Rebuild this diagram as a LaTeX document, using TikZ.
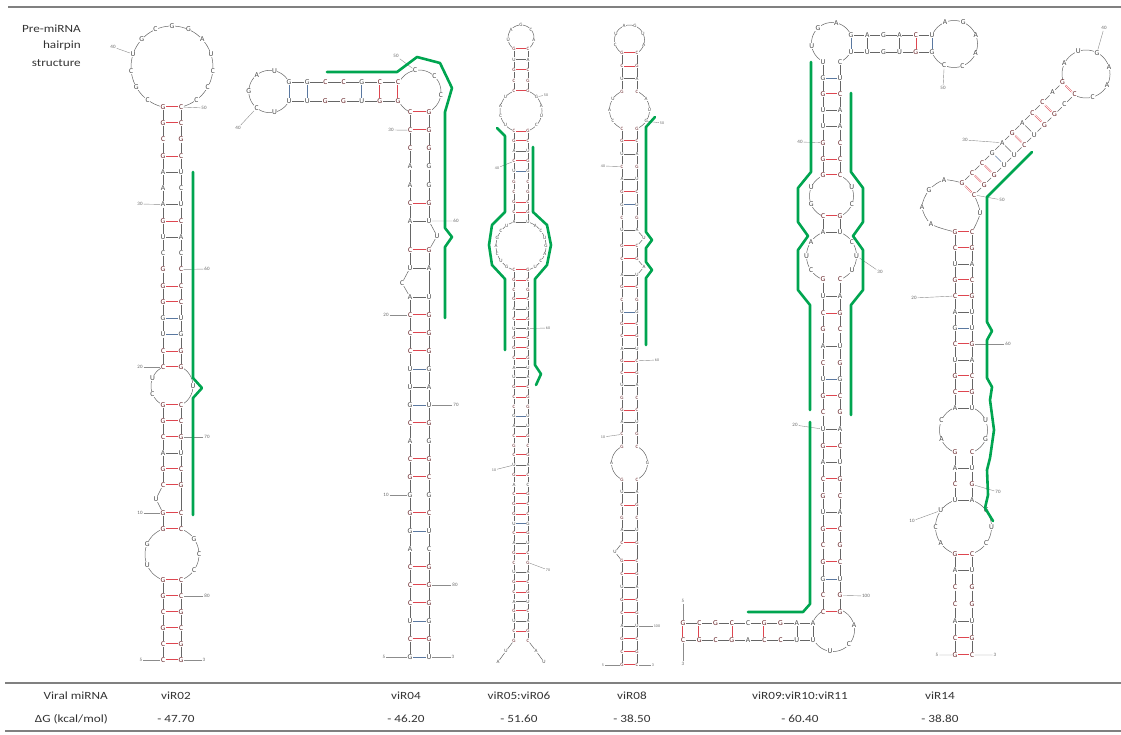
\documentclass[tikz,border=0pt]{standalone}
\usepackage{fontspec}
\setmainfont{Carlito}
\newfontfamily\tabfont{Carlito}[FakeStretch=1.2]
\pgfdeclarelayer{bg}
\pgfsetlayers{bg,main}
\definecolor{gcred}{RGB}{222,70,80}
\definecolor{gurule}{RGB}{90,120,160}
\definecolor{annot}{RGB}{0,165,80}
\tikzset{
 nt/.style={font=\fontsize{7.5}{7.5}\selectfont, inner sep=0.5pt, fill=white, text=black!72},
 ntg/.style={text=black!55!gcred}, nta/.style={}, ntw/.style={}, ntn/.style={},
 bdg/.style={draw=gcred, double=white, double distance=0.7pt, line width=0.45pt},
 bda/.style={draw=black!60, line width=0.5pt},
 bdw/.style={draw=gurule, line width=0.5pt},
 bdn/.style={draw=none},
 bb/.style={draw=black!60, line width=0.5pt},
 num/.style={font=\fontsize{5}{5}\selectfont, text=black!60, inner sep=1pt},
 tick/.style={draw=black!45, line width=0.4pt},
 grn/.style={draw=annot, line width=2.6pt, line join=round, line cap=round},
 rule/.style={draw=black!50, line width=2.2pt},
 hdr/.style={font=\tabfont\fontsize{11}{11}\selectfont, text=black!80, inner sep=0pt},
 tiny/.style={nt/.append style={font=\fontsize{5}{5}\selectfont, inner sep=0.3pt},
              num/.append style={font=\fontsize{4}{4}\selectfont}},
}
\newcommand\rnavst[6]{%
  \foreach \xa/\xb/\ty [count=\i, remember=\i as \j (initially 0)] in {#6}{%
    \node[nt,nt\ty] (#1l\i) at (#2,{#4+(\i-1)*#5}) {\xa};
    \node[nt,nt\ty] (#1r\i) at (#3,{#4+(\i-1)*#5}) {\xb};
    \draw[bd\ty] (#1l\i) -- (#1r\i);
    \ifnum\i>1 \draw[bb] (#1l\j) -- (#1l\i); \draw[bb] (#1r\j) -- (#1r\i); \fi
  }%
}
\newcommand\rnahst[6]{%
  \foreach \xa/\xb/\ty [count=\i, remember=\i as \j (initially 0)] in {#6}{%
    \node[nt,nt\ty] (#1t\i) at ({#4+(\i-1)*#5},#2) {\xa};
    \node[nt,nt\ty] (#1b\i) at ({#4+(\i-1)*#5},#3) {\xb};
    \draw[bd\ty] (#1t\i) -- (#1b\i);
    \ifnum\i>1 \draw[bb] (#1t\j) -- (#1t\i); \draw[bb] (#1b\j) -- (#1b\i); \fi
  }%
}
\newcommand\rnaloop[8]{%
  \begin{pgfonlayer}{bg}
    \draw[bb] plot[domain=#5:#6, samples=60, smooth] ({#2+#4*cos(\x)},{#3+#4*sin(\x)});
  \end{pgfonlayer}
  \foreach \xa [count=\i] in {#8}{%
    \pgfmathsetmacro\ang{#5+\i*(#6-#5)/(#7+1)}
    \node[nt] (#1\i) at ({#2+#4*cos(\ang)},{#3+#4*sin(\ang)}) {\xa};
  }%
}
\newcommand\rnaarc[5]{%
  \begin{pgfonlayer}{bg}
    \draw[bb] plot[domain=#4:#5, samples=30, smooth] ({#1+#3*cos(\x)},{#2+#3*sin(\x)});
  \end{pgfonlayer}%
}
\newcommand\rnalab[5]{%
  \node[num] (#1) at (#2,#3) {#4};
  \draw[tick] (#1) -- (#5);
}
\begin{document}
\begin{tikzpicture}[x=1pt,y=-1pt]
\useasboundingbox (0,0) rectangle (1121,735);
% ---------- rules and header
\draw[rule] (8,7) -- (1121,7);
\draw[rule] (5,683) -- (1121,683);
\draw[rule] (5,731) -- (1121,731);
\node[hdr,anchor=east] (h1) at (81,29) {Pre-miRNA};
\node[hdr,anchor=east] (h2) at (81,46) {hairpin};
\node[hdr,anchor=east] (h3) at (81,63) {structure};
% ---------- table
\node[hdr,anchor=east] (t1) at (108,696) {Viral miRNA};
\node[hdr,anchor=east] (t2) at (108,719) {ΔG (kcal/mol)};
\node[hdr] (n1) at (176,696) {viR02};
\node[hdr] (n2) at (406,696) {viR04};
\node[hdr] (n3) at (519,696) {viR05:viR06};
\node[hdr] (n4) at (632,696) {viR08};
\node[hdr] (n5) at (800,696) {viR09:viR10:viR11};
\node[hdr] (n6) at (940,696) {viR14};
\node[hdr] (g1) at (176,719) {- 47.70};
\node[hdr] (g2) at (406,719) {- 46.20};
\node[hdr] (g3) at (519,719) {- 51.60};
\node[hdr] (g4) at (632,719) {- 38.50};
\node[hdr] (g5) at (800,719) {- 60.40};
\node[hdr] (g6) at (940,719) {- 38.80};

% ================= viR02
\rnavst{a}{163}{181}{107}{16.25}{G/C/g,G/C/g,C/G/g,G/C/g,A/U/a,A/C/n,A/U/a,G/C/g,U/A/a,C/C/n,G/C/g,G/C/g,G/C/g,G/U/w,U/G/w,C/G/g,C/G/g}
\rnaloop{aT}{172}{67}{41}{102.7}{437.3}{13}{C,G,C,U,G,C,G,G,A,U,C,C,C}
\rnaloop{aIL}{172}{386}{21}{244.6}{115.4}{2}{U,C}
\rnaloop{aIR}{172}{386}{21}{-64.6}{64.6}{1}{U}
\rnavst{b}{163}{181}{405}{16}{G/C/g,G/C/g,C/G/g,A/U/a,G/C/g,C/G/g}
\rnavst{c}{163}{181}{513}{16}{G/C/g,G/C/g}
\node[nt] (bU) at (156,499) {U};
\draw[bb] (bl6) -- (bU) -- (cl1);
\draw[bb] (br6) -- (cr1);
\rnaloop{aBL}{172}{554.5}{27}{250.8}{109.2}{2}{G,U}
\rnaloop{aBR}{172}{554.5}{27}{-70.8}{70.8}{3}{G,C,C}
\rnavst{d}{163}{181}{580}{16}{G/C/g,G/C/g,C/G/g,G/C/g,C/G/g,C/G/g}
\rnalab{la1}{113}{47}{40}{aT4}
\rnalab{la2}{204}{108}{50}{ar1}
\rnalab{la3}{140}{204}{30}{al7}
\rnalab{la4}{207}{269}{60}{ar11}
\rnalab{la5}{140}{367}{20}{al17}
\rnalab{la6}{207}{437}{70}{br3}
\rnalab{la7}{140}{513}{10}{cl1}
\rnalab{la8}{207}{596}{80}{dr2}
\rnalab{la9}{141}{660}{5}{dl6}
\rnalab{la10}{204}{660}{3}{dr6}
\draw[grn] (193,172) -- (193,378) -- (202,388) -- (193,398) -- (193,515);

% ================= viR04
\rnahst{e}{82}{101}{289}{18.17}{G/U/w,G/U/w,C/G/g,C/G/g,G/U/w,C/G/g,C/G/g}
\rnaloop{eL}{270}{91.5}{21.2}{333.1}{26.9}{5}{U,A,G,C,U}
\rnaloop{eC}{419}{92}{22}{205.5}{423}{3}{C,C,C}
\rnaarc{419}{92}{22}{156}{114}
\rnavst{f}{410}{429}{112}{18.17}{C/G/g,C/G/g,C/G/g,A/G/n,A/G/n,C/G/g,A/U/a}
\rnavst{g}{410}{429}{250}{18}{C/G/g,U/A/a}
\node[nt] (fU) at (437,236) {U};
\draw[bb] (fr7) -- (fU) -- (gr1);
\draw[bb] (fl7) -- (gl1);
\rnavst{h}{410}{429}{297}{18}{A/U/a,C/G/g,C/G/g,C/G/g,U/G/w,U/A/a,G/U/w,C/G/g,A/G/n,C/G/g,G/C/g,G/G/n,G/C/g,G/U/w,A/C/n,C/G/g,C/G/g,C/G/g,U/G/w,C/G/g,G/U/w}
\node[nt] (gC) at (402,283) {C};
\draw[bb] (gl2) -- (gC) -- (hl1);
\draw[bb] (gr2) -- (hr1);
\rnalab{lb1}{238}{128}{40}{eL4}
\rnalab{lb2}{396}{56}{50}{eC1}
\rnalab{lb3}{391}{130}{30}{fl2}
\rnalab{lb4}{456}{221}{60}{fr7}
\rnalab{lb5}{386}{315}{20}{hl2}
\rnalab{lb6}{456}{405}{70}{hr7}
\rnalab{lb7}{386}{495}{10}{hl12}
\rnalab{lb8}{455}{585}{80}{hr17}
\rnalab{lb9}{384}{657}{5}{hl21}
\rnalab{lb10}{453}{657}{3}{hr21}
\draw[grn] (327,72) -- (397,72) -- (417,57) -- (440,63) -- (452,88) -- (445,112) -- (445,228) -- (452,237) -- (445,247) -- (445,318);

% ================= viR05:viR06
\begin{scope}[tiny]
\rnaloop{pT}{521}{38}{13}{122.6}{417.4}{5}{U,A,G,C,A}
\rnavst{p}{514}{528}{48.95}{10.56}{G/C/g,U/A/a,G/C/g,C/G/g,C/G/g}
\rnaloop{pAL}{521}{111}{21}{250.5}{109.5}{4}{U,A,C,U}
\rnaloop{pAR}{521}{111}{21}{-70.5}{70.5}{4}{G,A,U,C}
\rnavst{q}{514}{528}{130.8}{10.13}{C/G/g,G/C/g,A/U/a,C/G/g,U/G/w,G/C/g,C/G/g,G/C/g,C/G/g,A/U/a}
\rnaloop{pBL}{521}{246}{25}{253.7}{106.3}{7}{U,C,G,A,C,U,G}
\rnaloop{pBR}{521}{246}{25}{-73.7}{73.7}{7}{A,C,U,G,A,C,U}
\rnavst{s}{514}{528}{270}{9.75}{C/G/g,G/C/g,C/G/g,G/C/g,A/U/a,C/G/g,U/A/a,G/C/g,G/C/g,C/G/g,A/U/a,U/A/a,G/C/g,C/G/g,C/G/g,G/U/w,A/U/a,C/G/g,G/C/g,C/G/g,U/A/a,G/C/g,A/C/n,C/G/g,G/C/g,G/C/g,U/G/w,C/G/g,A/U/a,G/C/g,C/G/g,U/A/a,G/C/g,C/G/g,A/U/a,G/C/g,U/A/a,C/G/g,G/C/g}
\node[nt] (sx1) at (506,651) {U};
\node[nt] (sx2) at (498,662) {A};
\node[nt] (sy1) at (536,651) {A};
\node[nt] (sy2) at (544,662) {U};
\draw[bb] (sl39) -- (sx1) -- (sx2);
\draw[bb] (sr39) -- (sy1) -- (sy2);
\rnalab{lc1}{546}{95}{50}{pAR1}
\rnalab{lc2}{497}{168}{40}{ql4}
\rnalab{lc3}{548}{328}{60}{sr7}
\rnalab{lc4}{494}{470}{10}{sl21}
\rnalab{lc5}{548}{570}{70}{sr31}
\end{scope}
\draw[grn] (497,128) -- (505,136) -- (505,212) -- (492,225) -- (489,245) -- (492,265) -- (505,279) -- (505,350);
\draw[grn] (533,147) -- (533,212) -- (547,225) -- (551,245) -- (547,265) -- (535,279) -- (535,365) -- (541,374) -- (536,385);

% ================= viR08
\begin{scope}[tiny]
\rnaloop{wT}{629.5}{40}{15}{120}{420}{6}{C,U,A,G,U,A}
\rnavst{w}{622}{637}{53}{12.82}{G/C/g,C/G/g,U/A/a,G/C/g}
\rnaloop{wAL}{629.5}{110}{20}{248}{112}{3}{U,A,C}
\rnaloop{wAR}{629.5}{110}{20}{-68}{68}{3}{A,U,G}
\rnavst{x}{622}{637}{128.5}{12.7}{C/G/g,G/C/g,U/A/a,C/G/g,A/U/a,G/C/g,G/U/w,C/G/g,U/A/a}
\rnavst{y}{622}{637}{246}{13}{G/C/g,C/G/g}
\rnavst{z}{622}{637}{275}{12.257}{A/U/a,G/C/g,C/G/g,U/G/w,G/C/g,C/G/g,A/U/a,G/C/g,C/G/g,U/A/a,G/C/g,G/C/g,A/U/a,C/G/g,G/C/g}
\node[nt] (xU) at (644,238) {U};
\node[nt] (yA) at (644,267) {A};
\draw[bb] (xr9) -- (xU) -- (yr1);
\draw[bb] (xl9) -- (yl1);
\draw[bb] (yr2) -- (yA) -- (zr1);
\draw[bb] (yl2) -- (zl1);
\rnaloop{wBL}{629.5}{463}{18}{245.4}{114.6}{1}{A}
\rnaloop{wBR}{629.5}{463}{18}{-65.4}{65.4}{1}{G}
\rnavst{u}{622}{637}{479.4}{12.7}{G/C/g,U/A/a,C/G/g,G/C/g,A/U/a,C/G/g}
\rnavst{v}{622}{637}{561}{13}{G/C/g,C/G/g,U/A/a,G/C/g,C/G/g,A/U/a,G/C/g,C/G/g,G/C/g}
\node[nt] (uU) at (615,552) {U};
\draw[bb] (ul6) -- (uU) -- (vl1);
\draw[bb] (ur6) -- (vr1);
\rnalab{ld1}{603}{166}{40}{xl4}
\rnalab{ld2}{662}{123}{50}{wAR3}
\rnalab{ld3}{657}{360}{60}{zr8}
\rnalab{ld4}{603}{437}{10}{zl14}
\rnalab{ld5}{657}{626}{100}{vr6}
\rnalab{ld6}{603}{665}{5}{vl9}
\rnalab{ld7}{653}{665}{3}{vr9}
\end{scope}
\draw[grn] (655,117) -- (646,127) -- (646,232) -- (652,240) -- (646,248) -- (646,262) -- (652,270) -- (646,278) -- (646,345);

% ================= viR09:viR10:viR11
\rnaloop{kT}{832}{43}{20.5}{116}{337}{3}{U,G,A}
\rnaarc{832}{43}{20.5}{26}{67}
\rnahst{k}{35}{52}{851}{16.2}{G/U/w,A/U/a,G/G/n,A/U/a,C/G/g,U/G/w}
\rnaloop{kR}{954}{44}{23.5}{202.5}{520}{6}{A,G,A,A,C,C}
\rnavst{m}{823}{840}{62}{16.14}{U/C/n,G/U/w,G/C/g,U/A/a,U/A/a,G/C/g,G/C/g,G/C/g}
\rnaloop{mAL}{831.5}{196}{22}{247.8}{112.2}{2}{U,G}
\rnaloop{mAR}{831.5}{196}{22}{-67.8}{67.8}{2}{U,C}
\rnavst{n}{823}{840}{216.3}{16.2}{C/G/g,A/U/a}
\rnaloop{mBL}{831.5}{256}{25}{250.1}{109.9}{3}{A,U,C}
\rnaloop{mBR}{831.5}{256}{25}{-70.1}{70.1}{3}{C,U,U}
\rnavst{o}{823}{840}{279.5}{16.625}{G/C/g,U/A/a,C/G/g,G/C/g,A/U/a,C/G/g,U/G/w,G/C/g,C/G/g,U/A/a,G/C/g,A/U/a,C/G/g,G/C/g,U/A/a,G/C/g,C/G/g,G/C/g,G/U/w,C/G/g,C/G/g}
\rnahst{r}{623}{640}{683}{16.25}{G/C/g,C/G/g,G/C/g,C/G/g,C/A/n,G/C/g,G/C/g,A/U/a,A/U/a}
\rnaloop{rL}{833}{630}{21.5}{291.3}{513.4}{3}{A,C,U}
\rnaarc{833}{630}{21.5}{240.9}{199.3}
\rnalab{le1}{800}{142}{40}{ml6}
\rnalab{le2}{943}{88}{50}{kR6}
\rnalab{le3}{880}{272}{30}{mBR2}
\rnalab{le4}{795}{425}{20}{ol10}
\rnalab{le5}{866}{596}{100}{or20}
\rnalab{le6}{683}{601}{5}{rt1}
\rnalab{le7}{683}{664}{3}{rb1}
\draw[grn] (811,62) -- (811,172) -- (798,188) -- (798,222) -- (808,236) -- (798,250) -- (798,290) -- (810,305) -- (810,410);
\draw[grn] (810,422) -- (810,604) -- (803,612) -- (748,612);
\draw[grn] (851,93) -- (851,172) -- (863,188) -- (863,222) -- (853,236) -- (863,250) -- (863,290) -- (851,305) -- (851,415);

% ================= viR14
\rnaloop{qT}{1086}{74}{24}{160}{480}{6}{A,U,G,A,A,C}
\begin{scope}[shift={(1068.5,88.5)}, rotate=-45]
\rnavst{j}{-8.5}{8.5}{0}{14.2}{G/C/g,A/C/n,C/G/g,C/G/g,A/U/a,G/C/g,A/U/a,G/U/w,C/G/g,C/G/g,G/C/g}
\end{scope}
\rnavst{i}{955}{972}{232}{16}{G/C/g,C/G/g,U/A/a,G/C/g,C/G/g,A/U/a,G/U/w,C/G/g,U/A/a,G/C/g,C/G/g,A/U/a}
\node[nt] (iq1) at (944,180) {A};
\node[nt] (iq2) at (929,190) {G};
\node[nt] (iq3) at (922,207) {A};
\node[nt] (iq4) at (931,224) {A};
\node[nt] (iq5) at (980,213) {U};
\begin{pgfonlayer}{bg}
\draw[bb] plot[smooth] coordinates {(962.1,182.9) (944,180) (929,190) (922,207) (931,224) (955,232)};
\draw[bb] plot[smooth] coordinates {(974.1,194.9) (980,213) (972,232)};
\end{pgfonlayer}
\rnaloop{iAL}{963.5}{430}{24}{249.3}{110.7}{2}{C,A}
\rnaloop{iAR}{963.5}{430}{24}{-69.3}{69.3}{2}{U,G}
\rnavst{ii}{955}{972}{452.4}{16}{G/C/g,A/U/a,C/G/g,U/A/a}
\rnaloop{iBL}{963.5}{527}{28}{252.3}{107.7}{3}{U,C,A}
\rnaloop{iBR}{963.5}{527}{28}{-72.3}{72.3}{3}{G,U,C}
\rnavst{iii}{955}{972}{553.7}{16.88}{G/C/g,A/U/a,C/G/g,C/G/g,A/U/a,C/G/g,G/C/g}
\rnalab{lf1}{1104}{28}{40}{qT3}
\rnalab{lf2}{965}{140}{30}{jl7}
\rnalab{lf3}{1002}{200}{50}{jr11}
\rnalab{lf4}{914}{298}{20}{il5}
\rnalab{lf5}{1008}{344}{60}{ir8}
\rnalab{lf6}{998}{492}{70}{iir3}
\rnalab{lf7}{912}{521}{10}{iBL1}
\rnalab{lf8}{937}{655}{5}{iiil7}
\rnalab{lf9}{995}{655}{3}{iiir7}
\draw[grn] (1032,152) -- (987,197) -- (987,322) -- (992,331) -- (987,340) -- (987,378) -- (992,387) -- (990,400) -- (994,430) -- (990,458) -- (987,470) -- (988,495) -- (985,508) -- (993,521);
\end{tikzpicture}
\end{document}
